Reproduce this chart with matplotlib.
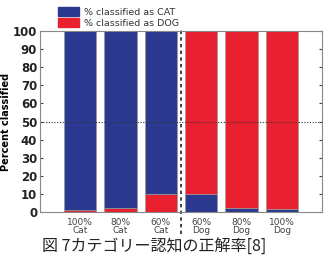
import numpy as np
import matplotlib.pyplot as plt

labels = ['100%\nCat', '80%\nCat', '60%\nCat', '60%\nDog', '80%\nDog', '100%\nDog']
cat_pct = [99, 98, 90, 10, 2, 1.5]
dog_pct = [1, 2, 10, 90, 98, 98.5]
caption = '図 7カテゴリー認知の正解率[8]'

blue = '#2b3990'
red = '#e8202f'

fig = plt.figure(figsize=(3.28, 2.66), dpi=100)
ax = fig.add_axes([0.122, 0.203, 0.860, 0.680])

x = np.arange(1, 7)
cat_pct = np.array(cat_pct)
dog_pct = np.array(dog_pct)
# minority class is stacked at the bottom
for i in range(len(x)):
    if cat_pct[i] >= dog_pct[i]:
        ax.bar(x[i], dog_pct[i], 0.8, color=red, edgecolor='#999999', lw=0.5)
        ax.bar(x[i], cat_pct[i], 0.8, bottom=dog_pct[i], color=blue, edgecolor='#999999', lw=0.5)
    else:
        ax.bar(x[i], cat_pct[i], 0.8, color=blue, edgecolor='#999999', lw=0.5)
        ax.bar(x[i], dog_pct[i], 0.8, bottom=cat_pct[i], color=red, edgecolor='#999999', lw=0.5)

ax.axhline(50, color='#333333', ls=(0, (1, 1.5)), lw=0.8)
ax.plot([3.5, 3.5], [-12, 101.5], color='#222222', ls=(0, (2, 2)), lw=1.2, clip_on=False)

ax.set_xlim(0, 7)
ax.set_ylim(0, 100)
ax.set_yticks(range(0, 101, 10))
ax.set_xticks(x)
ax.set_xticklabels(labels, fontsize=6.5, color='#444444', linespacing=0.95)
ax.tick_params(axis='y', labelsize=8.5, direction='in', right=True, length=2, colors='#444444',
               labelcolor='#222222', pad=2)
ax.tick_params(axis='x', length=0, pad=4)
for lbl in ax.get_yticklabels():
    lbl.set_fontweight('bold')
for sp in ax.spines.values():
    sp.set_color('#888888')
    sp.set_linewidth(0.8)
ax.set_ylabel('Percent classified', fontsize=7, fontweight='bold', labelpad=1)

h1 = plt.Rectangle((0, 0), 1, 1, color=blue)
h2 = plt.Rectangle((0, 0), 1, 1, color=red)
fig.legend([h1, h2], ['% classified as CAT', '% classified as DOG'],
           loc='upper left', bbox_to_anchor=(0.15, 1.005), frameon=False, fontsize=6.8,
           handlelength=2.3, handleheight=1.1, handletextpad=0.5, labelspacing=0.12,
           labelcolor='#333333')

fig.text(0.47, 0.04, caption, ha='center', va='bottom', fontsize=11.5,
         family=['Noto Sans CJK JP', 'DejaVu Sans'], color='#222222')

plt.savefig('out.png', dpi=100)
